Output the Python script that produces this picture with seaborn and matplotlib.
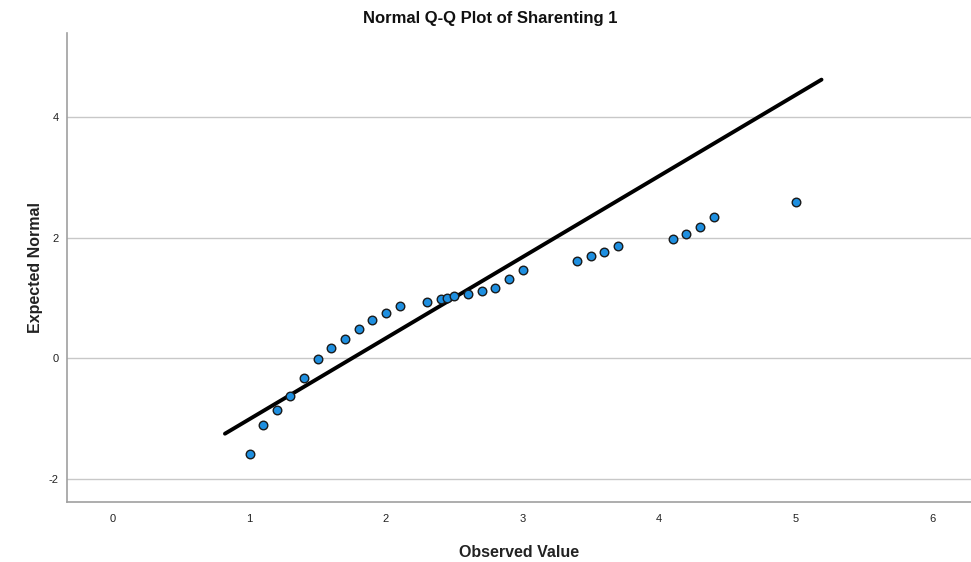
import numpy as np
import pandas as pd
import matplotlib
matplotlib.use("Agg")
import matplotlib.pyplot as plt
import seaborn as sns

observed = [1.0, 1.1, 1.2, 1.3, 1.4, 1.5, 1.6, 1.7, 1.8, 1.9, 2.0, 2.1,
            2.3, 2.4, 2.45, 2.5, 2.6, 2.7, 2.8, 2.9, 3.0,
            3.4, 3.5, 3.6, 3.7, 4.1, 4.2, 4.3, 4.4, 5.0]
expected = [-1.58, -1.10, -0.86, -0.62, -0.33, -0.01, 0.17, 0.32, 0.48, 0.63, 0.75, 0.87,
            0.93, 0.98, 1.00, 1.04, 1.07, 1.12, 1.17, 1.32, 1.46,
            1.61, 1.69, 1.76, 1.86, 1.97, 2.06, 2.17, 2.34, 2.59]
# reference line: y = (x - mean) / sd
line_x = [0.82, 5.19]
mean_val = 1.75
sd_val = 0.745

df = pd.DataFrame({"Observed": observed, "Expected": expected})
line_df = pd.DataFrame({"x": line_x})
line_df["y"] = (line_df["x"] - mean_val) / sd_val

sns.set_style("white")
plt.rcParams["font.family"] = ["Liberation Sans", "DejaVu Sans"]
plt.rcParams["axes.unicode_minus"] = False

fig = plt.figure(figsize=(9.71, 5.62), dpi=100)
ax = fig.add_axes([67 / 971, 1 - 502 / 562, 1 - 67 / 971, (502 - 33) / 562])

for yv in [-2, 0, 2, 4]:
    ax.axhline(yv, color="#c8c8c8", lw=1, zorder=0)

sns.lineplot(data=line_df, x="x", y="y", color="black", lw=2.8, ax=ax, zorder=2)
sns.scatterplot(data=df, x="Observed", y="Expected", color="#1E8FE0", edgecolor="#1a1a1a",
                linewidth=1.0, s=38, ax=ax, zorder=3)

ax.set_xlim(-0.337, 6.285)
ax.set_ylim(-2.38, 5.39)
ax.set_xticks(range(0, 7))
ax.set_yticks([-2, 0, 2, 4])
ax.tick_params(length=0, labelsize=8, colors="#222222")
ax.tick_params(axis="x", pad=9)
ax.tick_params(axis="y", pad=6)

for s in ["top", "right"]:
    ax.spines[s].set_visible(False)
for s in ["left", "bottom"]:
    ax.spines[s].set_color("#a0a0a0")
    ax.spines[s].set_linewidth(1.2)

ax.set_xlabel("Observed Value", fontsize=11.5, fontweight="bold", labelpad=15, color="#222222")
ax.set_ylabel("Expected Normal", fontsize=11.5, fontweight="bold", labelpad=4, color="#222222")
fig.text(0.505, 1 - 18 / 562, "Normal Q-Q Plot of Sharenting 1", ha="center", va="center",
         fontsize=12, fontweight="bold", color="#111111")

fig.savefig("out.png", dpi=100)
